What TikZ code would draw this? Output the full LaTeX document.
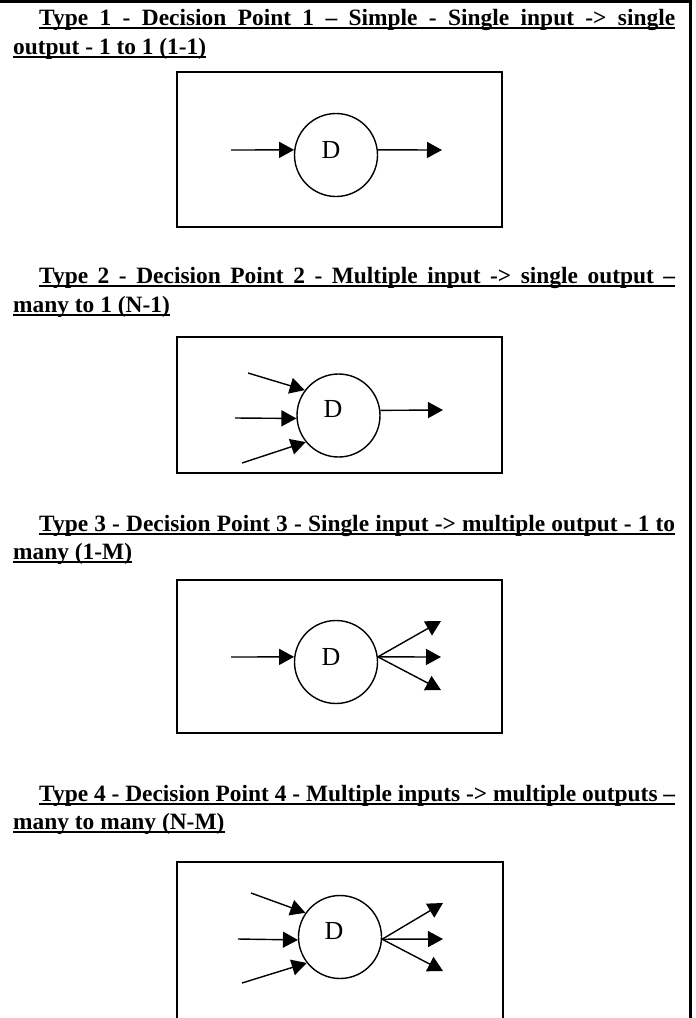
\documentclass[tikz,border=0pt]{standalone}
\usepackage{fontspec}
\setmainfont{Liberation Serif}
\usetikzlibrary{arrows.meta}

\begin{document}
\begin{tikzpicture}[x=1pt,y=-1pt,
  frameline/.style={line width=2.6pt},
  boxline/.style={line width=2pt},
  dcircle/.style={circle, draw, line width=1.4pt, minimum size=83pt, inner sep=0pt},
  dlabel/.style={font=\fontsize{26}{26}\selectfont, inner sep=0pt},
  arr/.style={line width=1.4pt, -{Triangle[length=15pt,width=16pt]}},
  head/.style={font=\fontsize{23.4}{28}\selectfont\bfseries, anchor=base west, inner sep=0pt},
  uline/.style={line width=1.7pt}]

\useasboundingbox (0,0) rectangle (696,1018);

% cell border (top and right)
\draw[frameline] (0,1.3) -- (690.7,1.3) -- (690.7,1018);

% underlined heading line: name, x, y, text
\newcommand\hdline[4]{%
  \node[head] (#1) at (#2,#3) {#4};
  \draw[uline] ([yshift=-3pt]#1.base west) -- ([yshift=-3pt]#1.base east);}

% ---------- Type 1 ----------
\hdline{h1a}{39}{25}{\makebox[636pt][s]{Type 1 - Decision Point 1 – Simple - Single input -> single}}
\hdline{h1b}{13}{54}{output - 1 to 1 (1-1)}
\draw[boxline] (177,72) rectangle (502,227);
\node[dcircle] (c1) at (336,155) {};
\node[dlabel] at (331,150) {D};
\coordinate (i1) at (231,150);
\coordinate (o1) at (442,150);
\draw[arr] (i1) -- (c1.173);
\draw[arr] (c1.7) -- (o1);

% ---------- Type 2 ----------
\hdline{h2a}{39}{283}{\makebox[636pt][s]{Type 2 - Decision Point 2 - Multiple input -> single output –}}
\hdline{h2b}{13}{312}{many to 1 (N-1)}
\draw[boxline] (177,337) rectangle (502,473);
\node[dcircle] (c2) at (338.5,415.5) {};
\node[dlabel] at (333,409) {D};
\coordinate (i2a) at (248,373);
\coordinate (i2b) at (235,418);
\coordinate (i2c) at (242,463);
\coordinate (o2) at (443,410);
\draw[arr] (i2a) -- (c2.143);
\draw[arr] (i2b) -- (c2.184);
\draw[arr] (i2c) -- (c2.219);
\draw[arr] (c2.7) -- (o2);

% ---------- Type 3 ----------
\hdline{h3a}{39}{531}{\makebox[636pt][s]{Type 3 - Decision Point 3 - Single input -> multiple output - 1 to}}
\hdline{h3b}{13}{559}{many (1-M)}
\draw[boxline] (177,580) rectangle (502,733);
\node[dcircle] (c3) at (336,662) {};
\node[dlabel] at (331,657) {D};
\coordinate (i3) at (231,657);
\coordinate (o3a) at (441,621);
\coordinate (o3b) at (441,657);
\coordinate (o3c) at (441,690);
\draw[arr] (i3) -- (c3.173);
\draw[arr] (c3.7) -- (o3a);
\draw[arr] (c3.7) -- (o3b);
\draw[arr] (c3.7) -- (o3c);

% ---------- Type 4 ----------
\hdline{h4a}{39}{801}{\makebox[636pt][s]{Type 4 - Decision Point 4 - Multiple inputs -> multiple outputs –}}
\hdline{h4b}{13}{829}{many to many (N-M)}
\draw[boxline] (177,1018) -- (177,862) -- (503,862) -- (503,1018);
\node[dcircle] (c4) at (340,937) {};
\node[dlabel] at (334,931) {D};
\coordinate (i4a) at (251,893);
\coordinate (i4b) at (238,939);
\coordinate (i4c) at (242,983);
\coordinate (o4a) at (443,903);
\coordinate (o4b) at (443,939);
\coordinate (o4c) at (443,971);
\draw[arr] (i4a) -- (c4.145);
\draw[arr] (i4b) -- (c4.184);
\draw[arr] (i4c) -- (c4.218);
\draw[arr] (c4.357) -- (o4a);
\draw[arr] (c4.357) -- (o4b);
\draw[arr] (c4.357) -- (o4c);
\end{tikzpicture}
\end{document}
